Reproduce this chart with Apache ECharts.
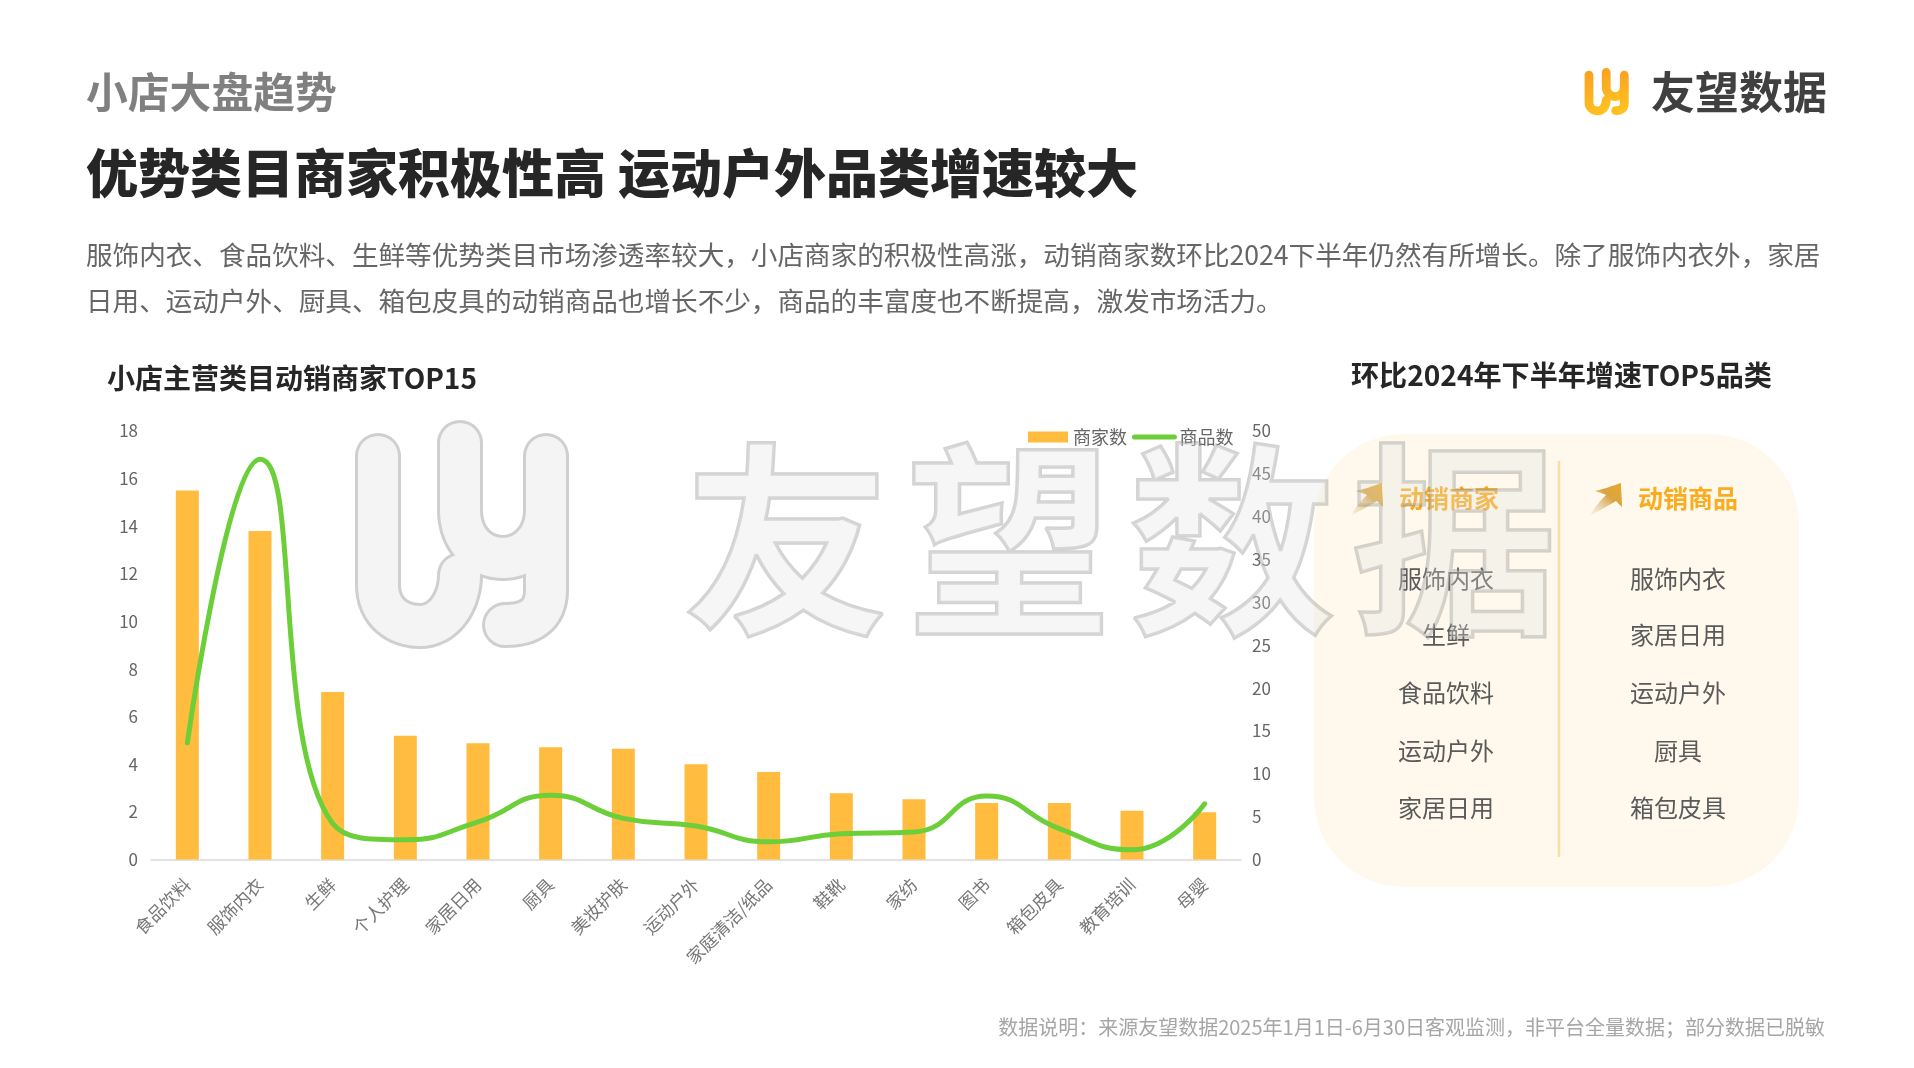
<!DOCTYPE html>
<html lang="zh">
<head>
<meta charset="utf-8">
<title>小店大盘趋势</title>
<style>
html,body{margin:0;padding:0;background:#fff}
#chart{width:1914px;height:1068px}
</style>
<script src="https://cdn.jsdelivr.net/npm/echarts@6/dist/echarts.min.js"></script>
</head>
<body>
<div id="chart"></div>
<script>
// 类目与两组动销数据
const categories = ['食品饮料','服饰内衣','生鲜','个人护理','家居日用','厨具','美妆护肤','运动户外','家庭清洁/纸品','鞋靴','家纺','图书','箱包皮具','教育培训','母婴'];
const merchantCounts = [15.5,13.8,7.04,5.2,4.88,4.72,4.65,4.0,3.68,2.78,2.53,2.37,2.37,2.05,1.98];
const productCounts = [13.6,46.7,4.2,2.3,4.4,7.5,4.8,3.9,2.06,3.0,3.2,7.4,3.6,1.13,6.5];

// 右侧增速榜单
const merchantTop5 = ['服饰内衣','生鲜','食品饮料','运动户外','家居日用'];
const productTop5 = ['服饰内衣','家居日用','运动户外','厨具','箱包皮具'];

// 页面文字
const subtitle = '小店大盘趋势';
const headline = '优势类目商家积极性高 运动户外品类增速较大';
const bodyLines = [
  '服饰内衣、食品饮料、生鲜等优势类目市场渗透率较大，小店商家的积极性高涨，动销商家数环比2024下半年仍然有所增长。除了服饰内衣外，家居',
  '日用、运动户外、厨具、箱包皮具的动销商品也增长不少，商品的丰富度也不断提高，激发市场活力。'
];
const chartTitle = '小店主营类目动销商家TOP15';
const panelTitle = '环比2024年下半年增速TOP5品类';
const footnote = '数据说明：来源友望数据2025年1月1日-6月30日客观监测，非平台全量数据；部分数据已脱敏';
const brandChars = ['友','望','数','据'];

const FONT = '"Noto Sans CJK SC","Noto Sans",sans-serif';

// 标识笔画：每条由起点和若干三次贝塞尔段组成
const LOGO_STROKES = [
  {start:[378,456],curves:[[378,500,378,545,378,585],[378,612,398,626,420,626],[445,626,460,600,460,575]]},
  {start:[460,443],curves:[[460,465,460,490,460,510],[460,540,480,558,503,558],[525,558,546,540,546,510]]},
  {start:[546,456],curves:[[546,500,546,545,546,590],[546,615,530,625,505,625]]}
];
const ARROW_OUTLINE = {start:[1590,516],curves:[[1595,506,1601,500,1606,495],[1603,494,1599,492,1595,491],[1604,489,1612,486,1621,483],[1621,491,1622,499,1622,507],[1620,505,1618,503,1616,501],[1608,506,1600,510,1590,516]]};

function flatten(def,ox,oy,scale,dx){
  const pts=[];
  let p=def.start;
  const map=(x,y)=>[(x-ox)*scale+ox+dx[0],(y-oy)*scale+oy+dx[1]];
  pts.push(map(p[0],p[1]));
  def.curves.forEach(c=>{
    for(let k=1;k<=16;k++){
      const t=k/16,u=1-t;
      const x=u*u*u*p[0]+3*u*u*t*c[0]+3*u*t*t*c[2]+t*t*t*c[4];
      const y=u*u*u*p[1]+3*u*u*t*c[1]+3*u*t*t*c[3]+t*t*t*c[5];
      pts.push(map(x,y));
    }
    p=[c[4],c[5]];
  });
  return pts;
}
function label(text,x,y,size,color,weight,align,z){
  return {type:'text',z:z||10,silent:true,style:{text,x,y,fontSize:size,fontFamily:FONT,fontWeight:weight||400,fill:color,textAlign:align||'left',textVerticalAlign:'middle'}};
}
function logo(scale,dx,width,stroke,z){
  return LOGO_STROKES.map(s=>({type:'polyline',z,silent:true,
    shape:{points:flatten(s,378,443,scale,dx)},
    style:{fill:null,stroke,lineWidth:width,lineCap:'round',lineJoin:'round'}}));
}
function arrow(dx){
  return {type:'polygon',z:12,silent:true,
    shape:{points:flatten(ARROW_OUTLINE,0,0,1,[dx,0])},
    style:{fill:{type:'linear',x:0,y:1,x2:1,y2:0,colorStops:[{offset:0,color:'rgba(225,215,190,0.2)'},{offset:0.6,color:'#d9a441'},{offset:1,color:'#e8a92c'}]}}};
}

const graphics = [
  // 页眉
  label(subtitle,86,92,41.8,'#808080',700),
  label(headline,86,173,52,'#262626',900),
  label(bodyLines[0],86,255,26.6,'#666666',400),
  label(bodyLines[1],86,301,26.6,'#666666',400),
  label(chartTitle,107,378,28,'#262626',700),
  label(panelTitle,1351,375,28.1,'#262626',700),
  label(footnote,1825,1027,20,'#a6a6a6',400,'right'),
  // 品牌标识
  ...logo(0.21,[1211,-370.6],8.8,{type:'linear',x:0,y:0,x2:1,y2:1,colorStops:[{offset:0,color:'#f99f22'},{offset:1,color:'#ffc71f'}]},12),
  label('友望数据',1651,92,44,'#404040',700),
  // 右侧面板
  {type:'rect',z:-2,silent:true,shape:{x:1314,y:434,width:485,height:453,r:90},style:{fill:'#fef9ec'}},
  {type:'line',z:-1,silent:true,shape:{x1:1559,y1:461,x2:1559,y2:857},style:{stroke:'#fbdf9f',lineWidth:2.5}},
  arrow(-239),arrow(0),
  label('动销商家',1449,498,25,'#fbab1e',700,'center'),
  label('动销商品',1688,498,25,'#fbab1e',700,'center')
];
const rowY = [579,635,693,751,808];
merchantTop5.forEach((t,i)=>graphics.push(label(t,1446,rowY[i],24,'#5a5a5a',400,'center')));
productTop5.forEach((t,i)=>graphics.push(label(t,1678,rowY[i],24,'#5a5a5a',400,'center')));

// 背景水印
graphics.push(...logo(1,[0,0],46,'#cfcfcf',30));
graphics.push(...logo(1,[0,0],40,'#f4f4f4',31));
brandChars.forEach((c,i)=>{
  graphics.push({type:'text',z:100,silent:true,style:{text:c,x:787+i*222.5,y:540,fontSize:206,fontFamily:FONT,fontWeight:700,textAlign:'center',textVerticalAlign:'middle',fill:'rgba(225,225,225,0.3)',stroke:'rgba(140,140,140,0.38)',lineWidth:3.5}});
});

const chart = echarts.init(document.getElementById('chart'),null,{renderer:'canvas'});
chart.setOption({
  animation:false,
  backgroundColor:'#ffffff',
  textStyle:{fontFamily:FONT},
  legend:{
    left:1023,top:423,itemGap:5,itemWidth:40,itemHeight:11,
    textStyle:{fontSize:18,color:'#666666'},
    lineStyle:{width:5},
    data:[{name:'商家数',icon:'rect'},{name:'商品数',itemStyle:{opacity:0}}]
  },
  grid:{left:151,right:673,top:431,height:428.5,containLabel:false},
  xAxis:{
    type:'category',data:categories,
    axisTick:{show:false},
    axisLine:{lineStyle:{color:'#d9d9d9',width:1.5}},
    axisLabel:{rotate:45,fontSize:17.5,color:'#777777',margin:22,interval:0}
  },
  yAxis:[
    {type:'value',min:0,max:18,interval:2,splitLine:{show:false},axisLine:{show:false},axisTick:{show:false},
     axisLabel:{fontSize:17,color:'#666666',margin:13}},
    {type:'value',min:0,max:50,interval:5,splitLine:{show:false},axisLine:{show:false},axisTick:{show:false},
     axisLabel:{fontSize:17,color:'#666666',margin:11}}
  ],
  series:[
    {name:'商家数',type:'bar',yAxisIndex:0,data:merchantCounts,barWidth:23,itemStyle:{color:'#ffbc3e'}},
    {name:'商品数',type:'line',yAxisIndex:1,data:productCounts,smooth:0.5,showSymbol:false,symbol:'none',
     lineStyle:{color:'#6ccf3a',width:5,cap:'round'},itemStyle:{color:'#6ccf3a'}}
  ],
  graphic:{elements:graphics}
});
</script>
</body>
</html>
